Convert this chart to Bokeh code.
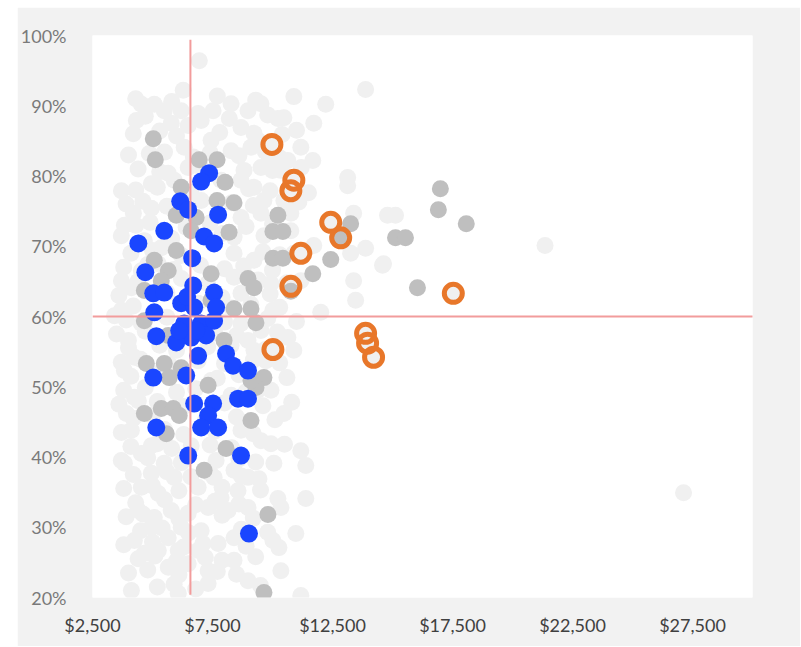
from bokeh.plotting import figure
from bokeh.models import FixedTicker, NumeralTickFormatter, PrintfTickFormatter, Range1d
from bokeh.embed import file_html
from bokeh.resources import INLINE

# ---------------- data ----------------
x_ticks = [2500, 7500, 12500, 17500, 22500, 27500]
y_ticks = [20, 30, 40, 50, 60, 70, 80, 90, 100]

# all entities (light gray) - individually read points
light_x = [6950, 6280, 4535, 5075, 5490, 7525, 8273, 8979, 9519, 10225,
           10889, 12218, 13879, 11720, 10474, 5781, 7027, 8688, 6487, 9228,
           4867, 6321, 7442, 9103, 11180, 11678, 9394, 5656, 6487, 8813,
           9809, 10640, 9519, 4950, 5905, 8688, 9228, 13132, 13132, 10474,
           9643, 4203, 4950, 8688, 9519, 10764, 14793, 15125, 13381, 4660,
           5366, 8397, 9228, 10889, 13879, 13256, 14585, 4120, 4535, 5241,
           8397, 9934, 13381, 13464, 14627, 12010, 3414, 10017, 10640, 10889,
           10474, 9934, 11180, 11387, 9934, 10058, 9436, 10225, 11387, 10349,
           10972, 10017, 10266, 10349, 11180, 3995, 3829, 4244, 4535, 8688,
           8979, 9228, 7442, 9394, 3704, 8688, 3829, 4535, 4950, 5490,
           4535, 5241, 5905, 6902, 7567, 8397, 8979, 8563, 7857, 4410,
           5075, 5781, 6487, 7317, 8148, 8979, 4244, 4950, 5656, 6196,
           7027, 7733, 8397, 5241, 6072, 6902, 8397, 5656, 6487, 7317,
           4120, 6072, 8979, 7317, 4660, 4244, 3912, 4410, 21355, 27127,
           3704, 8273, 9519, 9726, 8688, 9519, 4120, 4950, 7650, 6611,
           8273, 3829, 9643, 10349, 7857, 7027, 8273, 3704, 6196, 4327,
           10764, 11180, 11720]
light_y = [96.4, 92.2, 90.2, 90.2, 89.3, 89.3, 90.3, 89.3, 90.3, 88.2,
           91.3, 90.2, 92.3, 87.5, 88.3, 87.5, 87.9, 86.9, 87.2, 86.1,
           83.2, 84.1, 85.1, 84.1, 84.1, 82.2, 85.1, 80.4, 81.2, 80.8,
           81.8, 82.2, 81.2, 78.9, 79.4, 79.4, 78.4, 79.8, 78.6, 76.5,
           76.5, 74.7, 75.4, 74.1, 74.7, 74.7, 74.4, 74.4, 74.7, 70.8,
           69.8, 69.0, 68.0, 69.0, 69.7, 69.0, 67.3, 64.1, 66.5, 67.5,
           65.6, 64.7, 65.1, 62.3, 67.5, 60.6, 60.1, 60.9, 57.0, 55.2,
           46.2, 49.5, 40.9, 38.8, 41.9, 39.1, 36.9, 34.1, 34.1, 32.8,
           29.1, 28.1, 27.1, 23.8, 20.3, 56.6, 52.3, 48.5, 59.0, 59.0,
           56.6, 55.2, 50.9, 49.5, 60.9, 63.3, 39.1, 40.5, 37.7, 39.1,
           35.7, 34.8, 37.1, 35.7, 37.1, 38.1, 37.1, 35.2, 34.2, 32.4,
           31.4, 32.4, 32.0, 32.8, 32.4, 32.8, 28.1, 30.0, 28.5, 30.0,
           29.5, 27.7, 28.5, 26.7, 26.7, 26.7, 25.3, 24.3, 24.8, 23.8,
           21.0, 20.6, 22.4, 22.0, 26.3, 54.2, 46.2, 48.0, 70.1, 34.9,
           65.1, 55.9, 58.0, 53.7, 43.8, 42.3, 43.8, 41.6, 39.5, 41.6,
           48.8, 73.0, 71.5, 80.8, 79.4, 76.5, 83.6, 77.9, 89.3, 87.9,
           72.2, 65.1, 70.1]

# light gray points inside the dense cloud (estimated)
cloud_x = [4300, 5800, 7700, 9300,
           4700, 6900, 8200, 9800,
           4200, 5300, 6000, 7800, 10400, 11000,
           4000, 5500, 6700, 7400, 8600, 9700, 10300,
           4400, 5300, 7000, 10000, 11200,
           4300, 5200, 6600, 9000, 9900, 10900, 11500,
           3900, 4600, 5600, 8300, 9200, 11100,
           4300, 4900, 6400, 7400, 8900, 10000,
           3700, 5800, 7900, 8400,
           4100, 5000, 6200, 9600, 10300,
           3800, 4800, 5900, 7000, 8000, 8800, 10000,
           4400, 6200, 7300, 9400, 10600,
           3600, 5600, 7900, 9900,
           4200, 6900, 8300, 9100, 10300,
           3900, 5600, 8000, 9800, 11000,
           3500, 4700, 6400, 7600, 8500, 10200,
           4000, 5300, 6000, 7300, 9700,
           3700, 4500, 5700, 6900, 8000, 9200, 10300,
           4100, 5200, 7700, 8600, 10600,
           3800, 4700, 6000, 6800, 8900,
           3600, 5200, 6300, 8000, 9600, 10800,
           4200, 5000, 7200, 8500, 10100,
           3700, 5500, 6300, 7600, 9200,
           4100, 5200, 5800, 7400, 8300, 10500,
           3700, 4800, 6200, 8600, 9300,
           4200, 5600, 6600, 7400, 8700,
           3800, 5000, 6100, 7900, 9500,
           4300, 5500, 6800, 7600, 8600,
           3900, 4600, 6100, 7900, 9200,
           4500, 5400, 6500, 8700, 9800,
           3800, 5000, 6300, 7100, 8900,
           4400, 5100, 6000, 7200, 7900, 9300,
           4000, 4800, 6100, 7700, 8500,
           5200, 5900, 6800, 9500]
cloud_y = [91.0, 90.6, 91.4, 90.8,
           88.5, 88.9, 88.2, 88.7,
           86.0, 86.4, 85.7, 86.2, 85.9, 86.5,
           83.0, 83.4, 82.7, 83.3, 82.9, 83.5, 82.6,
           81.0, 80.6, 81.3, 80.8, 81.2,
           78.0, 78.4, 77.7, 78.2, 77.9, 78.5, 77.6,
           76.0, 76.4, 75.7, 76.2, 75.8, 76.3,
           73.0, 73.4, 72.7, 73.3, 72.8, 73.2,
           71.5, 71.1, 71.8, 71.3,
           69.0, 69.4, 68.7, 69.2, 68.8,
           67.0, 67.4, 66.7, 67.3, 66.8, 67.2, 66.6,
           65.0, 65.4, 64.7, 65.2, 64.8,
           63.0, 63.4, 62.7, 63.2,
           61.5, 61.9, 61.2, 61.7, 61.3,
           59.5, 59.9, 59.2, 59.7, 59.3,
           57.5, 57.9, 57.2, 57.7, 57.3, 57.8,
           55.5, 55.9, 55.2, 55.7, 55.3,
           53.5, 53.9, 53.2, 53.7, 53.3, 53.8, 53.4,
           51.5, 51.9, 51.2, 51.7, 51.3,
           49.5, 49.9, 49.2, 49.7, 49.3,
           47.5, 47.9, 47.2, 47.7, 47.3, 47.8,
           45.5, 45.9, 45.2, 45.7, 45.3,
           43.5, 43.9, 43.2, 43.7, 43.3,
           41.5, 41.9, 41.2, 41.7, 41.3, 41.8,
           39.5, 39.9, 39.2, 39.7, 39.3,
           37.5, 37.9, 37.2, 37.7, 37.3,
           35.5, 35.9, 35.2, 35.7, 35.3,
           33.5, 33.9, 33.2, 33.7, 33.3,
           31.5, 31.9, 31.2, 31.7, 31.3,
           29.5, 29.9, 29.2, 29.7, 29.3,
           27.5, 27.9, 27.2, 27.7, 27.3,
           25.5, 25.9, 25.2, 25.7, 25.3, 25.8,
           23.5, 23.9, 23.2, 23.7, 23.3,
           21.5, 21.9, 21.2, 21.7]

# peer group (medium gray)
gray_x = [5033, 5116, 6944, 7691, 8023, 6196, 7691, 8397, 5989, 6819,
          8190, 10225, 10017, 10432, 13256, 10017, 10432, 12426, 11678, 8979,
          9228, 16994, 16911, 18074, 15125, 15540, 16039, 9311, 9643, 9311,
          9103, 9809, 9643, 5656, 5075, 7442, 4660, 7442, 8397, 9103,
          4660, 7982, 5656, 4743, 5490, 5698, 6196, 7317, 9103, 4660,
          5366, 5864, 5573, 8065, 7151, 6113, 5989, 5366, 6611, 12841, 10765]
gray_y = [85.3, 82.3, 82.3, 82.3, 79.1, 78.4, 76.5, 76.2, 74.4, 74.1,
          72.0, 74.4, 72.1, 72.1, 73.2, 68.3, 68.3, 68.1, 66.1, 65.4,
          64.1, 78.2, 75.2, 73.2, 71.2, 71.2, 64.1, 59.1, 51.3, 49.9,
          45.2, 31.8, 20.7, 66.5, 68.0, 66.1, 63.7, 62.3, 61.1, 61.1,
          59.4, 56.6, 57.3, 53.3, 53.3, 51.3, 52.7, 50.2, 50.9, 46.2,
          46.9, 46.9, 43.3, 41.2, 38.1, 45.9, 69.4, 65.1, 72.2, 71.1, 63.6]

# highlighted group (blue)
blue_x = [7359, 7027, 6155, 6487, 7733, 5490, 7151, 7567, 4410, 6653,
          4701, 5033, 5490, 6695, 7567, 7650, 6196, 6736, 5075, 6321,
          7027, 7567, 6611, 5989, 5158, 6902, 8065, 8356, 8979, 6404,
          5033, 8563, 8979, 6736, 7525, 7317, 7027, 7733, 5158, 6487,
          8688, 9020, 6445, 7234, 6819, 6113]
blue_y = [80.4, 79.2, 76.4, 75.2, 74.5, 72.2, 71.4, 70.4, 70.4, 68.3,
          66.3, 63.3, 63.4, 64.4, 63.4, 61.3, 61.9, 61.3, 60.6, 59.0,
          59.0, 59.4, 57.0, 56.3, 57.2, 54.4, 54.7, 53.0, 52.3, 51.6,
          51.3, 48.3, 48.3, 47.6, 47.6, 45.9, 44.2, 44.2, 44.2, 40.2,
          40.2, 29.1, 62.8, 57.3, 58.0, 58.0]

# selected (orange rings)
orange_x = [9975, 10889, 10765, 12426, 12841, 11180, 10765, 10017, 13879, 13962, 14211, 17534]
orange_y = [84.5, 79.4, 77.9, 73.4, 71.2, 69.0, 64.3, 55.3, 57.6, 56.2, 54.2, 63.3]

# reference lines
ref_x = 6580
ref_y = 60
ref_x_span = [20.4, 99.4]
ref_y_span = [2500, 30200]

# ---------------- figure ----------------
p = figure(width=783, height=639,
           x_range=Range1d(2500, 30000), y_range=Range1d(20, 100),
           output_backend="svg", toolbar_location=None,
           min_border_left=74, min_border_right=48,
           min_border_top=28, min_border_bottom=49)
p.margin = (7, 0, 0, 17)
p.background_fill_color = "white"
p.border_fill_color = "#f2f2f2"
p.outline_line_color = None
p.grid.visible = False

LIGHT = "#f0f0f0"
p.scatter(light_x + cloud_x, light_y + cloud_y, size=17, fill_color=LIGHT, line_color=None)
p.scatter(orange_x, orange_y, size=17, fill_color=LIGHT, line_color=None)
p.scatter(gray_x, gray_y, size=17, fill_color="#bfbfbf", line_color=None)
p.scatter(blue_x, blue_y, size=18, fill_color="#1a46ff", line_color=None)

p.line([ref_x, ref_x], ref_x_span, line_color="#f29c9c", line_width=2)
p.line(ref_y_span, [ref_y, ref_y], line_color="#f29c9c", line_width=2)

p.scatter(orange_x, orange_y, size=18, fill_color=None,
          line_color="#e8772a", line_width=5)

p.xaxis.ticker = FixedTicker(ticks=x_ticks)
p.xaxis.formatter = NumeralTickFormatter(format="$0,0")
p.yaxis.ticker = FixedTicker(ticks=y_ticks)
p.yaxis.formatter = PrintfTickFormatter(format="%d%%")

for ax in (p.xaxis, p.yaxis):
    ax.axis_line_color = None
    ax.major_tick_line_color = None
    ax.minor_tick_line_color = None
    ax.major_label_text_font = "Lato"
    ax.major_label_text_font_size = "18px"

p.xaxis.major_label_text_color = "#404040"
p.yaxis.major_label_text_color = "#7a7a7a"
p.xaxis.major_label_standoff = 10
p.yaxis.major_label_standoff = 20

open("out.html", "w").write(file_html(p, INLINE))
